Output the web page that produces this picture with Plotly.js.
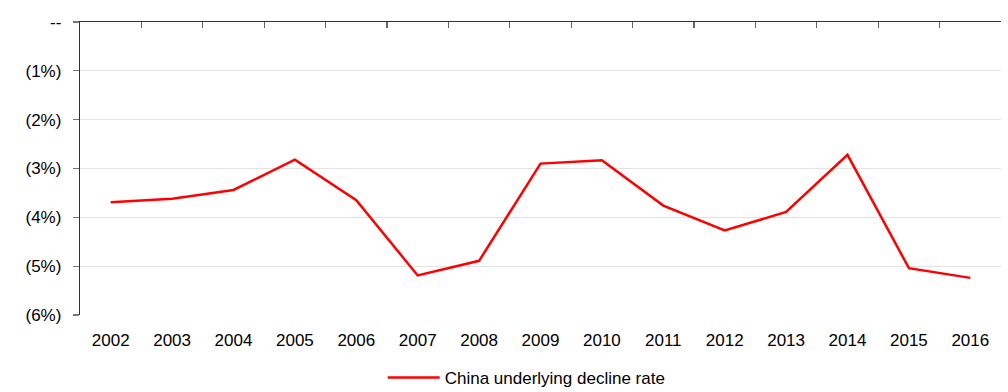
<!DOCTYPE html>
<html>
<head>
<meta charset="utf-8">
<script src="https://cdn.plot.ly/plotly-3.0.1.min.js"></script>
<style>html,body{margin:0;padding:0;background:#fff;}#chart{width:1008px;height:392px;}</style>
</head>
<body>
<div id="chart"></div>
<script>
const years = ['2002','2003','2004','2005','2006','2007','2008','2009','2010','2011','2012','2013','2014','2015','2016'];
const declineRate = [-3.69,-3.62,-3.44,-2.82,-3.65,-5.19,-4.89,-2.90,-2.83,-3.76,-4.27,-3.89,-2.72,-5.04,-5.24];
const seriesName = 'China underlying decline rate';
const yTickVals = [0,-1,-2,-3,-4,-5,-6];
const yTickText = ['--','(1%)','(2%)','(3%)','(4%)','(5%)','(6%)'];

const font = {family:'Liberation Sans, Arial, sans-serif', size:17, color:'#000'};
const xRange = [-0.5, years.length - 0.5];

const traces = [
  {x:years, y:declineRate, type:'scatter', mode:'lines', name:seriesName,
   line:{color:'#ff0000', width:2.5}, hoverinfo:'skip'},
  {x:years, y:declineRate, type:'scatter', mode:'lines', xaxis:'x2', showlegend:false,
   line:{color:'rgba(0,0,0,0)', width:0}, hoverinfo:'skip'}
];

const layout = {
  width:1008, height:392,
  margin:{l:80, r:7, t:22, b:77},
  paper_bgcolor:'#fff', plot_bgcolor:'#fff',
  font:font,
  showlegend:true,
  legend:{orientation:'h', x:0.485, xanchor:'center', yref:'container', y:0.036, yanchor:'middle',
          font:{family:font.family, size:17, color:'#000'}, itemwidth:52},
  xaxis:{type:'category', range:xRange, showline:false, showgrid:false, zeroline:false, ticks:'',
         tickfont:font, ticklabelstandoff:13, fixedrange:true, automargin:false},
  xaxis2:{type:'category', range:xRange, overlaying:'x', side:'top', showline:true, linecolor:'#333', linewidth:1.2,
          ticks:'inside', tickson:'boundaries', ticklen:6, tickcolor:'#666', tickwidth:1.2,
          showticklabels:false, showgrid:false, zeroline:false},
  yaxis:{range:[-6,0], tickvals:yTickVals, ticktext:yTickText, showline:true, linecolor:'#333', linewidth:1.2,
         ticks:'outside', ticklen:6, tickcolor:'#777', tickwidth:1.2,
         showgrid:true, gridcolor:'#e3e3e3', gridwidth:1.2, zeroline:false,
         tickfont:font, ticklabelstandoff:8, fixedrange:true, automargin:false}
};

Plotly.newPlot('chart', traces, layout, {displayModeBar:false, staticPlot:true});
</script>
</body>
</html>
